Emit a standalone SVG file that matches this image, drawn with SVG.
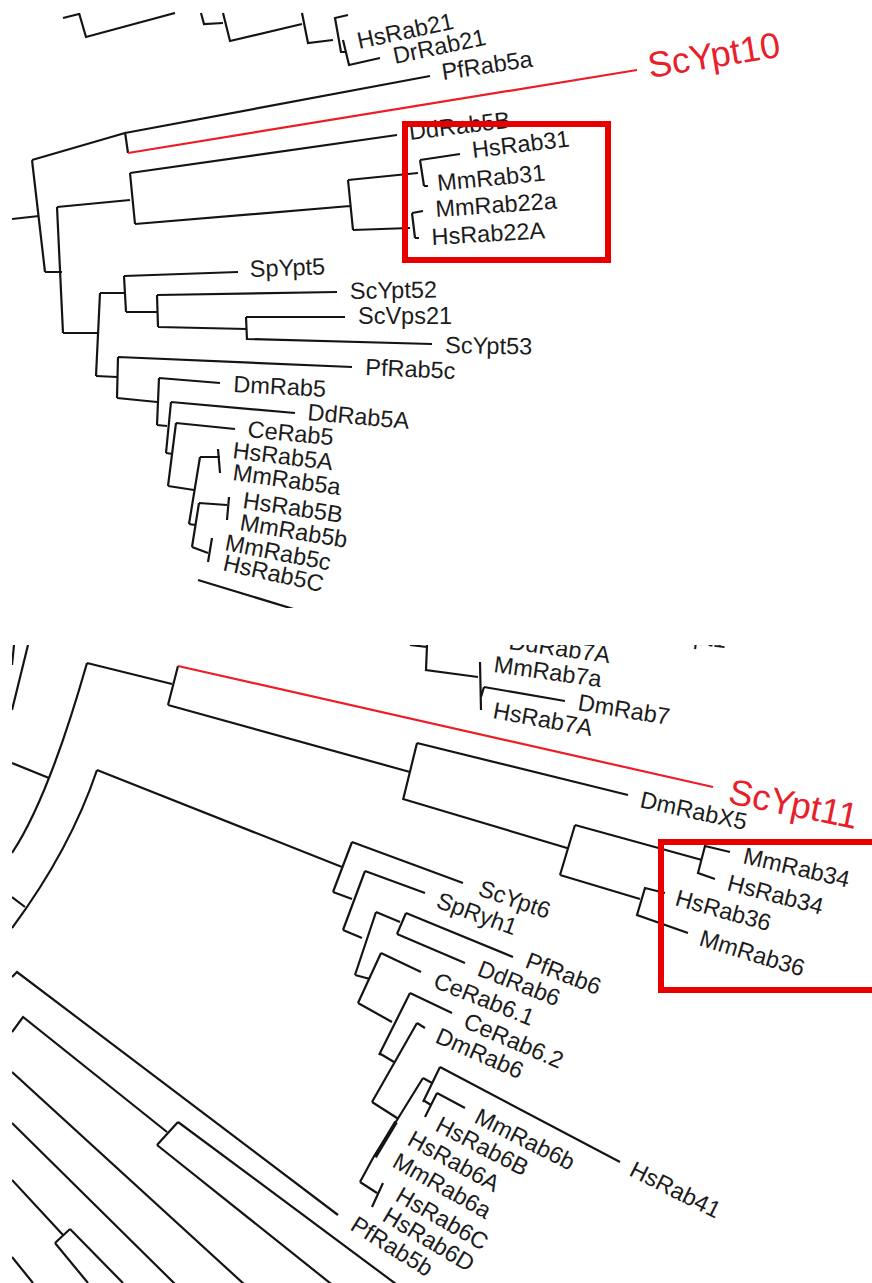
<svg xmlns="http://www.w3.org/2000/svg" width="872" height="1283" viewBox="0 0 872 1283">
<style>
.br{stroke:#141414;stroke-width:2.2;fill:none;stroke-linejoin:miter;stroke-linecap:butt}
.rl{stroke:#ee1c24;stroke-width:2.2;fill:none}
.lb{font-family:"Liberation Sans",Arial,sans-serif;font-size:23.5px;fill:#1c1c1c}
.big{font-family:"Liberation Sans",Arial,sans-serif;font-size:36px;fill:#e8202a}
.box{fill:none;stroke:#e60000;stroke-width:6}
</style>
<defs>
<clipPath id="clipA"><rect x="12" y="12" width="860" height="596"/></clipPath>
<clipPath id="clipB"><rect x="12" y="645" width="860" height="638"/></clipPath>
</defs>
<rect width="872" height="1283" fill="#fff"/>

<g id="panel-top" clip-path="url(#clipA)">
<g id="connectors-top">
<path class="br" d="M63,18 L79,14 M79,13 L86,37 L175,13 M201,13 L204,24 L223,23 M223,13 L230,41 L302,24 M302,13 L308,43 L333,40 M348,15 L335,18 L341,52 L346,52 M343,40 L349,65 L380,58"/>
<path class="br" d="M12,219 L39,216 M32,160 L45,272 M45,272 L62,272 M32,160 L125,133 M125,132 L128,153 M125,133 L430,76"/>
<path class="rl" d="M128,153 L637,70"/>
<path class="br" d="M57,207 L63,333 M57,207 L130,200 M130,173 L135,224 M130,173 L397,135 M135,224 L350,206 M348,180 L353,230 M348,180 L418,173 M353,230 L410,228 M420,160 L424,186 M420,160 L460,154 M424,186 L428,186 M412,213 L415,238 M412,213 L423,211 M415,238 L419,238"/>
<path class="br" d="M63,333 L97,333 M100,293 L96,376 M100,293 L125,293 M124,276 L126,312 M124,276 L238,272 M126,312 L157,312 M157,295 L158,327 M157,295 L337,292 M158,327 L247,329 M246,317 L247,340 M246,317 L345,317 M247,339 L432,344"/>
<path class="br" d="M96,376 L117,377 M118,357 L117,398 M118,357 L352,367 M117,398 L157,402 M159,378 L157,425 M159,378 L220,383 M157,425 L167,426 M171,402 L166,453 M171,402 L295,413 M166,453 L173,454 M176,423 L168,486 M176,423 L235,429 M168,486 L194,490 M200,457 L189,524 M200,457 L220,457 M218,449 L220,473 M189,524 L195,525 M199,503 L192,547 M199,503 L227,505 M229,497 L227,520 M192,547 L208,553 M212,538 L208,562 M198,580 L300,611"/>
</g>
<g id="n-HsRab21"><text class="lb" x="359" y="49" transform="rotate(-12 359 49)">HsRab21</text></g>
<g id="n-DrRab21"><text class="lb" x="395" y="64" transform="rotate(-12 395 64)">DrRab21</text></g>
<g id="n-PfRab5a"><text class="lb" x="443" y="80" transform="rotate(-8.5 443 80)">PfRab5a</text></g>
<g id="n-ScYpt10"><text class="big" x="650" y="78" transform="rotate(-9.3 650 78)">ScYpt10</text></g>
<g id="n-DdRab5B"><text class="lb" x="410" y="140" transform="rotate(-7 410 140)">DdRab5B</text></g>
<g id="n-HsRab31"><text class="lb" x="473" y="158" transform="rotate(-6.8 473 158)">HsRab31</text></g>
<g id="n-MmRab31"><text class="lb" x="438" y="191" transform="rotate(-5.6 438 191)">MmRab31</text></g>
<g id="n-MmRab22a"><text class="lb" x="436" y="217" transform="rotate(-4 436 217)">MmRab22a</text></g>
<g id="n-HsRab22A"><text class="lb" x="432" y="245" transform="rotate(-3.3 432 245)">HsRab22A</text></g>
<g id="n-SpYpt5"><text class="lb" x="250" y="277" transform="rotate(-2 250 277)">SpYpt5</text></g>
<g id="n-ScYpt52"><text class="lb" x="350" y="299" transform="rotate(-1 350 299)">ScYpt52</text></g>
<g id="n-ScVps21"><text class="lb" x="358" y="324">ScVps21</text></g>
<g id="n-ScYpt53"><text class="lb" x="445" y="353" transform="rotate(1 445 353)">ScYpt53</text></g>
<g id="n-PfRab5c"><text class="lb" x="365" y="375" transform="rotate(2.5 365 375)">PfRab5c</text></g>
<g id="n-DmRab5"><text class="lb" x="233" y="392" transform="rotate(3 233 392)">DmRab5</text></g>
<g id="n-DdRab5A"><text class="lb" x="307" y="420" transform="rotate(5 307 420)">DdRab5A</text></g>
<g id="n-CeRab5"><text class="lb" x="247" y="437" transform="rotate(5.5 247 437)">CeRab5</text></g>
<g id="n-HsRab5A"><text class="lb" x="232" y="458" transform="rotate(7 232 458)">HsRab5A</text></g>
<g id="n-MmRab5a"><text class="lb" x="232" y="480" transform="rotate(8 232 480)">MmRab5a</text></g>
<g id="n-HsRab5B"><text class="lb" x="242" y="508" transform="rotate(8.5 242 508)">HsRab5B</text></g>
<g id="n-MmRab5b"><text class="lb" x="239" y="530" transform="rotate(9.5 239 530)">MmRab5b</text></g>
<g id="n-MmRab5c"><text class="lb" x="224" y="550" transform="rotate(11 224 550)">MmRab5c</text></g>
<g id="n-HsRab5C"><text class="lb" x="222" y="570" transform="rotate(12.5 222 570)">HsRab5C</text></g>
<g id="box-top"><rect class="box" x="405" y="124" width="203" height="136"/></g>
</g>

<g id="panel-bottom" clip-path="url(#clipB)">
<g id="connectors-bottom">
<path class="br" d="M14,645 L12,665 M28,645 L12,710 M12,763 L49,778 M87,663 Q48.5,798 12,853 M87,663 L172,684 M178,666 L168,705 M168,705 L410,772 M417,743 L403,800 M417,743 L628,795 M403,799 L567,848 M575,825 L560,875 M575,825 L702,860 M730,852 L705,846 L698,873 L715,879 M560,875 L640,899 M665,893 L645,888 L637,915 L688,933"/>
<path class="rl" d="M178,666 L713,787"/>
<path class="br" d="M410,645 L427,647 M427,645 L426,670 L478,677 M480,662 L481,710 M484,687 L565,701 M484,687 L481,697"/>
<path class="br" d="M12,897 L25,907 M97,770 Q70,850 12,928 M97,770 L342,867 M352,842 L333,892 M352,842 L463,883 M333,892 L352,899 M365,871 L343,930 M365,871 L425,893 M343,930 L362,938 M376,912 L355,975 M376,912 L400,922 M406,913 L397,934 M406,913 L513,957 M397,934 L465,963 M355,975 L370,979 M381,953 L358,1003 M381,953 L421,972 M358,1003 L392,1022 M410,993 L379,1055 M410,993 L452,1013 M379,1053 L394,1062"/>
<path class="br" d="M417,1023 L372,1102 M417,1023 L425,1028 M372,1102 L397,1118 M423,1078 L397,1120 L373,1158 L360,1182 M423,1078 L432,1083 M440,1067 L423,1102 M440,1067 L620,1162 M423,1100 L431,1105 M437,1093 L425,1117 M437,1093 L465,1108 M360,1182 L377,1193 M383,1183 L372,1207"/>
<path class="br" style="stroke-width:4" d="M396,1122 L375,1157"/>
<path class="br" d="M12,977 L17,972 L338,1215 M12,1032 L23,1017 L167,1132 M178,1122 L157,1145 M178,1122 L400,1287 M157,1145 L335,1287 M12,1072 L245,1285 M12,1123 L176,1285 M12,1180 L63,1235 M70,1229 L55,1243 M70,1229 L123,1283 M55,1243 L88,1283 M12,1257 L33,1283"/>
</g>
<g id="n-ScYpt1"><text class="lb" x="652" y="639" transform="rotate(7 652 639)">ScYpt1</text></g>
<g id="n-DdRab7A"><text class="lb" x="508" y="649" transform="rotate(8 508 649)">DdRab7A</text></g>
<g id="n-MmRab7a"><text class="lb" x="493" y="672" transform="rotate(8 493 672)">MmRab7a</text></g>
<g id="n-DmRab7"><text class="lb" x="577" y="710" transform="rotate(9.3 577 710)">DmRab7</text></g>
<g id="n-HsRab7A"><text class="lb" x="492" y="718" transform="rotate(10.4 492 718)">HsRab7A</text></g>
<g id="n-ScYpt11"><text class="big" x="727" y="803" transform="rotate(11.5 727 803)">ScYpt11</text></g>
<g id="n-DmRabX5"><text class="lb" x="639" y="807" transform="rotate(12.3 639 807)">DmRabX5</text></g>
<g id="n-MmRab34"><text class="lb" x="742" y="863" transform="rotate(13.2 742 863)">MmRab34</text></g>
<g id="n-HsRab34"><text class="lb" x="726" y="890" transform="rotate(14.6 726 890)">HsRab34</text></g>
<g id="n-HsRab36"><text class="lb" x="674" y="905" transform="rotate(15.5 674 905)">HsRab36</text></g>
<g id="n-MmRab36"><text class="lb" x="698" y="945" transform="rotate(17 698 945)">MmRab36</text></g>
<g id="n-ScYpt6"><text class="lb" x="477" y="895" transform="rotate(19 477 895)">ScYpt6</text></g>
<g id="n-SpRyh1"><text class="lb" x="435" y="907" transform="rotate(20 435 907)">SpRyh1</text></g>
<g id="n-PfRab6"><text class="lb" x="524" y="967" transform="rotate(21 524 967)">PfRab6</text></g>
<g id="n-DdRab6"><text class="lb" x="476" y="975" transform="rotate(21.4 476 975)">DdRab6</text></g>
<g id="n-CeRab6.1"><text class="lb" x="432" y="987" transform="rotate(21.6 432 987)">CeRab6.1</text></g>
<g id="n-CeRab6.2"><text class="lb" x="462" y="1027" transform="rotate(23.4 462 1027)">CeRab6.2</text></g>
<g id="n-DmRab6"><text class="lb" x="434" y="1042" transform="rotate(23.7 434 1042)">DmRab6</text></g>
<g id="n-MmRab6b"><text class="lb" x="473" y="1122" transform="rotate(26.8 473 1122)">MmRab6b</text></g>
<g id="n-HsRab41"><text class="lb" x="628" y="1175" transform="rotate(26.6 628 1175)">HsRab41</text></g>
<g id="n-HsRab6B"><text class="lb" x="434" y="1130" transform="rotate(27.6 434 1130)">HsRab6B</text></g>
<g id="n-HsRab6A"><text class="lb" x="406" y="1144" transform="rotate(28.9 406 1144)">HsRab6A</text></g>
<g id="n-MmRab6a"><text class="lb" x="391" y="1166" transform="rotate(29.5 391 1166)">MmRab6a</text></g>
<g id="n-HsRab6C"><text class="lb" x="394" y="1200" transform="rotate(30 394 1200)">HsRab6C</text></g>
<g id="n-HsRab6D"><text class="lb" x="381" y="1220" transform="rotate(31 381 1220)">HsRab6D</text></g>
<g id="n-PfRab5b"><text class="lb" x="349" y="1229" transform="rotate(32 349 1229)">PfRab5b</text></g>
<g id="box-bottom"><rect class="box" x="661" y="842" width="230" height="148"/></g>
</g>
</svg>
